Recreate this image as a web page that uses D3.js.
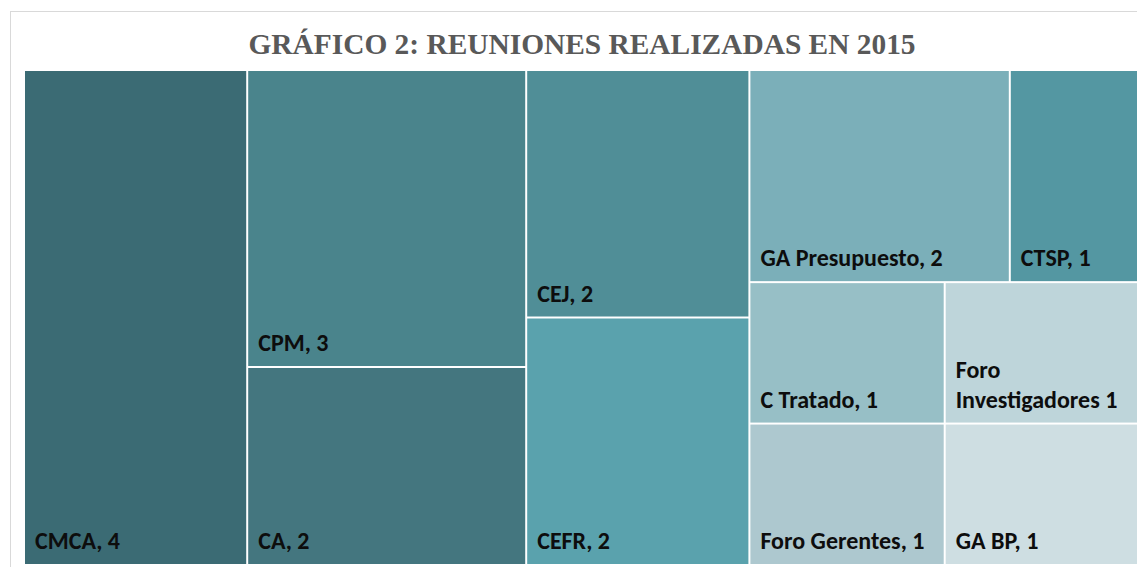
<!DOCTYPE html>
<html>
<head>
<meta charset="utf-8">
<script src="https://cdn.jsdelivr.net/npm/d3@7"></script>
<style>
  body { margin: 0; background: #fff; }
  .title { font-family: "Liberation Serif", "Times New Roman", serif; font-weight: bold; fill: #595959; }
  .cellLabel { font-family: Carlito, "Open Sans", sans-serif; font-weight: bold; fill: #0d0d0d; }
</style>
</head>
<body>
<div id="treemap"></div>
<script>
// * Data
var categories = ["CMCA", "CPM", "CA", "CEJ", "CEFR", "GA Presupuesto", "CTSP",
  "C Tratado", "Foro Gerentes", "Foro Investigadores", "GA BP"];
var values = [4, 3, 2, 2, 2, 2, 1, 1, 1, 1, 1];
var labels = ["CMCA, 4", "CPM, 3", "CA, 2", "CEJ, 2", "CEFR, 2", "GA Presupuesto, 2", "CTSP, 1",
  "C Tratado, 1", "Foro Gerentes, 1", "Foro|Investigadores 1", "GA BP, 1"];
// grouping the way excel nested the boxes
var groupPath = ["", "b", "b", "c", "c", "d/top", "d/top",
  "d/bottom/left", "d/bottom/left", "d/bottom/right", "d/bottom/right"];
var colors = ["#3b6b74", "#4a848c", "#44767f", "#508e97", "#5aa2ad", "#7bafb9", "#5497a2",
  "#97bfc6", "#adc8cf", "#bed5da", "#cedee2"];

var width = 1137;
var height = 567;
var margin = { left: 25, top: 71, right: -2, bottom: 3 };
var innerW = width - margin.left - margin.right;
var innerH = height - margin.top - margin.bottom;

var svg = d3.select("#treemap")
  .append("svg")
  .attr("width", width)
  .attr("height", height);

// * chart frame
svg.append("rect")
  .attr("x", 10.5)
  .attr("y", 11.5)
  .attr("width", 1150)
  .attr("height", 600)
  .attr("fill", "none")
  .attr("stroke", "#d9d9d9");

// * build the tree
var rootData = { name: "root", children: [] };
categories.forEach(function (c, i) {
  var node = rootData;
  groupPath[i].split("/").filter(Boolean).forEach(function (g) {
    var child = node.children.find(function (n) { return n.name === g; });
    if (!child) {
      child = { name: g, children: [] };
      node.children.push(child);
    }
    node = child;
  });
  node.children.push({ name: c, value: values[i], label: labels[i], color: colors[i] });
});

var root = d3.hierarchy(rootData).sum(function (d) { return d.value || 0; });

d3.treemap()
  .tile(d3.treemapSliceDice)
  .size([innerW, innerH])
  .paddingInner(2)(root);

var g = svg.append("g")
  .attr("transform", "translate(" + margin.left + "," + margin.top + ")");

var cell = g.selectAll(".cell")
  .data(root.leaves())
  .enter()
  .append("g")
  .attr("class", "cell");

cell.append("rect")
  .attr("x", function (d) { return d.x0; })
  .attr("y", function (d) { return d.y0; })
  .attr("width", function (d) { return d.x1 - d.x0; })
  .attr("height", function (d) { return d.y1 - d.y0; })
  .attr("fill", function (d) { return d.data.color; });

// * labels sit in the bottom left corner
var lineH = 30;
cell.append("text")
  .attr("class", "cellLabel")
  .style("font-size", "24px")
  .each(function (d) {
    var lines = d.data.label.split("|");
    var t = d3.select(this);
    lines.forEach(function (l, k) {
      t.append("tspan")
        .attr("x", d.x0 + 10)
        .attr("y", d.y1 - 15 - (lines.length - 1 - k) * lineH)
        .text(l);
    });
  });

// * title
svg.append("text")
  .attr("class", "title")
  .attr("x", margin.left + innerW / 2)
  .attr("y", 54)
  .attr("text-anchor", "middle")
  .style("font-size", "29.4px")
  .text("GRÁFICO 2: REUNIONES REALIZADAS EN 2015");
</script>
</body>
</html>
